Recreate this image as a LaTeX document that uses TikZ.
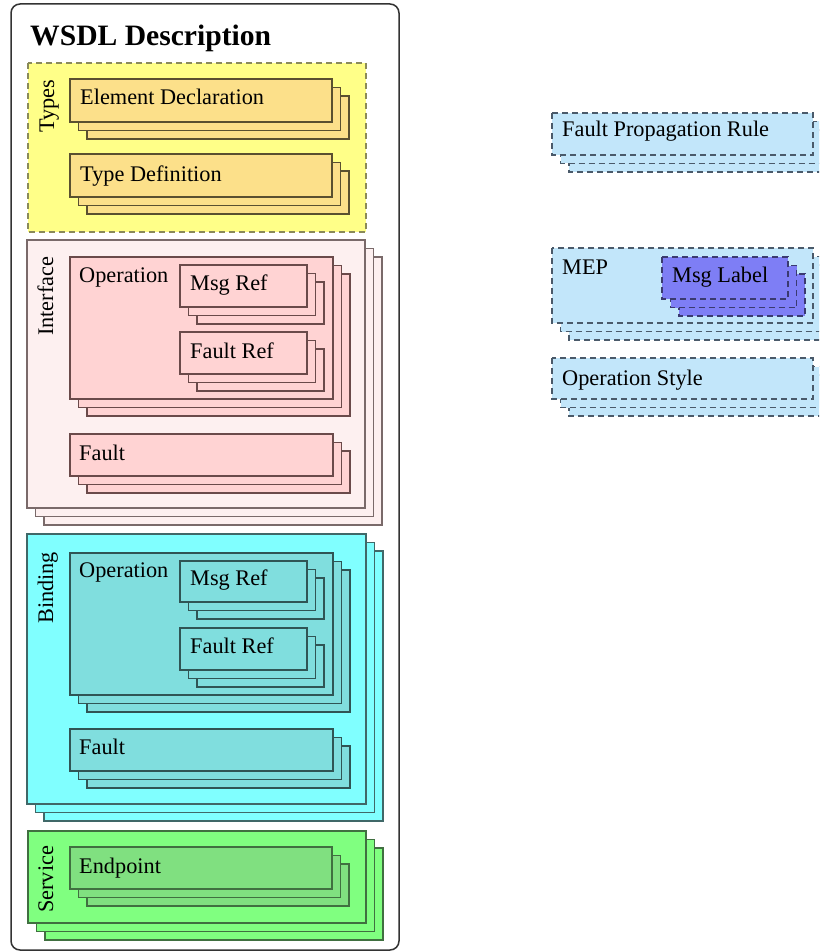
\documentclass[tikz,border=0pt]{standalone}
\usepackage{fontspec}
\setmainfont{Liberation Serif}
\definecolor{typesfill}{HTML}{FFFF88}
\definecolor{typesdraw}{HTML}{8A8A5A}
\definecolor{typeinner}{HTML}{FCE08A}
\definecolor{typeinnerdraw}{HTML}{5A5030}
\definecolor{iffill}{HTML}{FDF0F0}
\definecolor{ifdraw}{HTML}{7A6A6A}
\definecolor{ifinner}{HTML}{FFD3D3}
\definecolor{ifinnerdraw}{HTML}{6A4A4A}
\definecolor{bdfill}{HTML}{80FFFF}
\definecolor{bddraw}{HTML}{406868}
\definecolor{bdinner}{HTML}{80DEDE}
\definecolor{bdinnerdraw}{HTML}{305555}
\definecolor{svfill}{HTML}{80FF80}
\definecolor{svdraw}{HTML}{407040}
\definecolor{svinner}{HTML}{80E080}
\definecolor{rtfill}{HTML}{C2E6FA}
\definecolor{rtdraw}{HTML}{4A5A6A}
\definecolor{mlfill}{HTML}{7E7EF5}
\definecolor{mldraw}{HTML}{3A3A70}
\newcommand{\stackbox}[5]{%
  \foreach \d in {17,8.5,0} {\draw[#1,shift={(\d,\d)}] (#2,#3) rectangle (#4,#5);}}
\begin{document}
\begin{tikzpicture}[x=1pt,y=-1pt,
  lbl/.style={anchor=base west,inner sep=0pt,font=\fontsize{22.3}{26}\selectfont},
  vlbl/.style={lbl,rotate=90},
  typesbox/.style={fill=typesfill,draw=typesdraw,line width=1.4pt,dash pattern=on 6pt off 4pt},
  typeinbox/.style={fill=typeinner,draw=typeinnerdraw,line width=1.2pt},
  ifbox/.style={fill=iffill,draw=ifdraw,line width=1.2pt},
  ifinbox/.style={fill=ifinner,draw=ifinnerdraw,line width=1.2pt},
  bdbox/.style={fill=bdfill,draw=bddraw,line width=1.2pt},
  bdinbox/.style={fill=bdinner,draw=bdinnerdraw,line width=1.2pt},
  svbox/.style={fill=svfill,draw=svdraw,line width=1.2pt},
  svinbox/.style={fill=svinner,draw=svdraw,line width=1.2pt},
  rtbox/.style={fill=rtfill,draw=rtdraw,line width=1.3pt,dash pattern=on 6pt off 4pt},
  mlbox/.style={fill=mlfill,draw=mldraw,line width=1.3pt,dash pattern=on 6pt off 4pt}]
\useasboundingbox (0,0) rectangle (819,952);
\clip (0,0) rectangle (819,952);
% outer
\draw[rounded corners=9pt,line width=1.5pt,draw=black!80,fill=white] (11,4) rectangle (399,950);
\node[anchor=base west,inner sep=0pt,font=\fontsize{29.6}{34}\selectfont\bfseries] (title) at (30,45.5) {WSDL Description};
% Types
\draw[typesbox] (28,63) rectangle (366,232);
\node[vlbl] (types) at (54,133) {Types};
\stackbox{typeinbox}{70}{79}{332}{122}
\node[lbl] (eldecl) at (80,105) {Element Declaration};
\stackbox{typeinbox}{70}{154}{332}{197}
\node[lbl] (typedef) at (80,182) {Type Definition};
% Interface
\stackbox{ifbox}{27}{240}{365}{508}
\node[vlbl] (iface) at (53,336) {Interface};
\stackbox{ifinbox}{70}{257}{333}{399}
\node[lbl] (ifop) at (79,282) {Operation};
\stackbox{ifinbox}{180}{265}{307}{307}
\node[lbl] (ifmsg) at (190,290) {Msg Ref};
\stackbox{ifinbox}{180}{332}{307}{374}
\node[lbl] (iffref) at (190,358) {Fault Ref};
\stackbox{ifinbox}{70}{434}{333}{476}
\node[lbl] (iffault) at (79,460) {Fault};
% Binding
\stackbox{bdbox}{27}{534}{366}{804}
\node[vlbl] (binding) at (53,624) {Binding};
\stackbox{bdinbox}{70}{553}{333}{695}
\node[lbl] (bdop) at (79,577) {Operation};
\stackbox{bdinbox}{180}{561}{307}{602}
\node[lbl] (bdmsg) at (190,585) {Msg Ref};
\stackbox{bdinbox}{180}{628}{307}{670}
\node[lbl] (bdfref) at (190,653) {Fault Ref};
\stackbox{bdinbox}{70}{729}{333}{771}
\node[lbl] (bdfault) at (79,754) {Fault};
% Service
\stackbox{svbox}{28}{831}{366}{923}
\node[vlbl] (service) at (53,913) {Service};
\stackbox{svinbox}{70}{847}{332}{889}
\node[lbl] (endpoint) at (79,873) {Endpoint};
% Right side
\stackbox{rtbox}{552}{113}{813}{155}
\node[lbl] (fpr) at (562,137) {Fault Propagation Rule};
\stackbox{rtbox}{552}{248}{813}{323}
\node[lbl] (mep) at (562,274) {MEP};
\stackbox{mlbox}{662}{257}{788}{299}
\node[lbl] (msglabel) at (672,282) {Msg Label};
\stackbox{rtbox}{552}{358}{813}{399}
\node[lbl] (opstyle) at (562,385) {Operation Style};
\end{tikzpicture}
\end{document}
